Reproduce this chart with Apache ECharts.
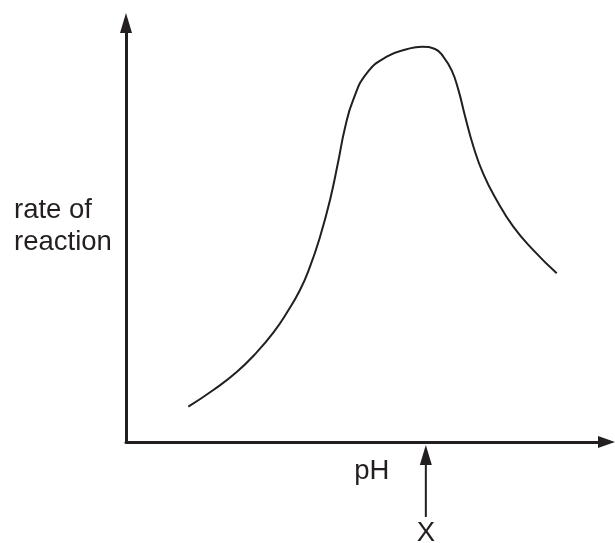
<!DOCTYPE html>
<html>
<head>
<meta charset="utf-8">
<script src="https://cdn.jsdelivr.net/npm/echarts@6/dist/echarts.min.js"></script>
<style>
  html, body { margin: 0; padding: 0; background: #fff; }
  #chart { width: 615px; height: 543px; }
</style>
</head>
<body>
<div id="chart"></div>
<script>
// 曲线数据（任意单位，0-100）
const phValues = [12.97, 18.17, 23.04, 27.20, 30.66, 33.44, 36.21, 38.29, 40.37, 42.46, 44.18, 45.58, 47.30, 50.09, 54.26, 58.42, 61.60, 64.31, 66.04, 67.78, 69.16, 70.55, 72.28, 74.36, 77.15, 80.60, 84.77, 89.64];
const rateValues = [8.42, 12.41, 16.70, 21.40, 26.10, 30.80, 36.28, 41.84, 48.93, 57.76, 67.00, 75.00, 81.70, 88.00, 91.96, 93.72, 94.34, 93.79, 91.96, 88.70, 84.10, 77.80, 70.60, 64.00, 57.70, 51.40, 45.80, 40.26];
// X 标记所在的 pH 位置
const markX = 62.4;
const markLabel = 'X';
const xName = 'pH';
const yName = 'rate of\nreaction';

(function () {
  let myCharts = echarts.init(document.getElementById('chart'));
  const ink = '#231f20';
  const font = '27.5px "Liberation Sans", Arial, sans-serif';

  let hidden = {
    axisTick: { show: false },
    axisLabel: { show: false },
    splitLine: { show: false }
  };

  let option = {
    animation: false,
    grid: { left: 126, top: 23, right: 8.5, bottom: 101 },
    xAxis: Object.assign({
      type: 'value', min: 0, max: 100,
      axisLine: {
        show: true, onZero: false,
        symbol: ['none', 'triangle'], symbolSize: [12, 17],
        lineStyle: { color: ink, width: 3 }
      }
    }, hidden),
    yAxis: Object.assign({
      type: 'value', min: 0, max: 100,
      axisLine: {
        show: true, onZero: false,
        symbol: ['none', 'triangle'], symbolSize: [12, 20],
        lineStyle: { color: ink, width: 3 }
      }
    }, hidden),
    series: [{
      type: 'line',
      data: phValues.map((x, i) => [x, rateValues[i]]),
      smooth: 0.5,
      showSymbol: false,
      clip: false,
      lineStyle: { color: ink, width: 2 }
    }]
  };
  myCharts.setOption(option);

  // 注释：坐标轴名称和 X 箭头
  const base = myCharts.convertToPixel({ gridIndex: 0 }, [markX, 0]);
  myCharts.setOption({
    graphic: [
      {
        type: 'text', left: 14, top: 194,
        style: { text: yName, font: font, lineHeight: 32, fill: ink }
      },
      {
        type: 'text', x: base[0] - 54, y: 471,
        style: { text: xName, font: font, fill: ink, align: 'center', verticalAlign: 'middle' }
      },
      {
        type: 'line',
        shape: { x1: base[0], y1: base[1] + 22, x2: base[0], y2: base[1] + 75 },
        style: { stroke: ink, lineWidth: 2 }
      },
      {
        type: 'polygon',
        shape: { points: [[base[0], base[1] + 3], [base[0] - 6, base[1] + 23], [base[0] + 6, base[1] + 23]] },
        style: { fill: ink }
      },
      {
        type: 'text', x: base[0], y: 533,
        style: { text: markLabel, font: font, fill: ink, align: 'center', verticalAlign: 'middle' }
      }
    ]
  });
})();
</script>
</body>
</html>
